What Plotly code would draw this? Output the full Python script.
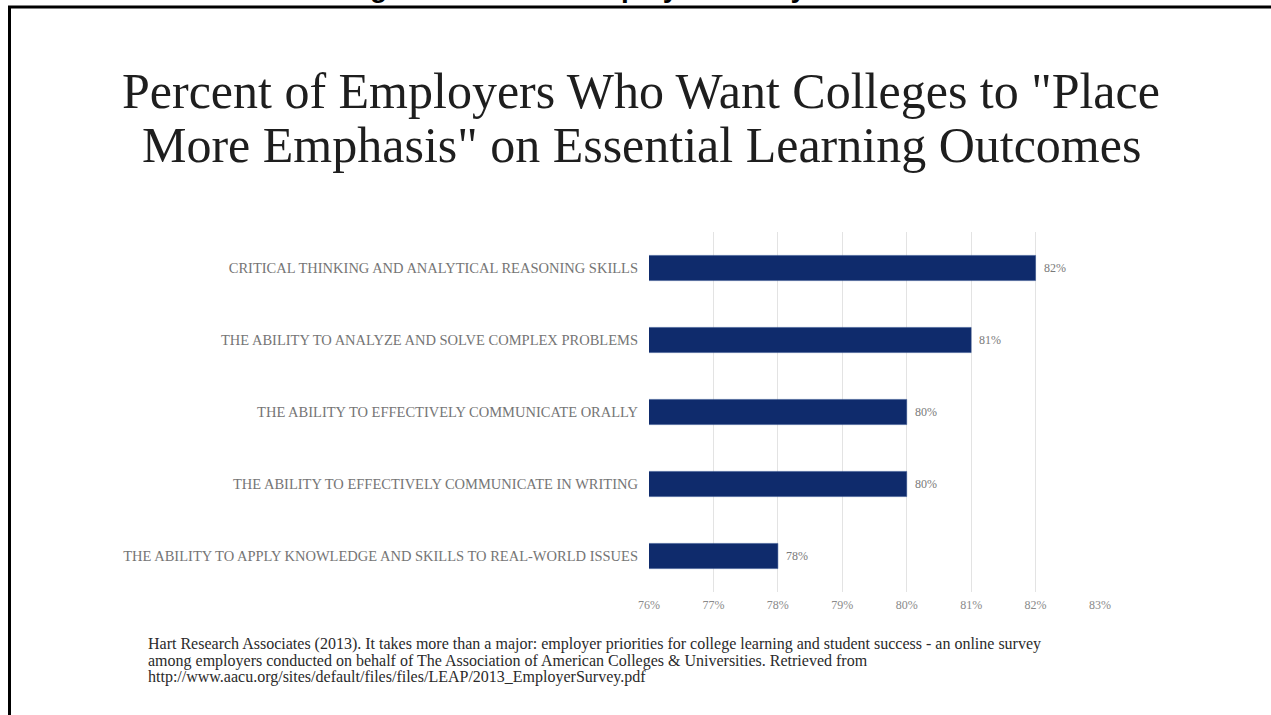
import plotly.graph_objects as go

categories = [
    "CRITICAL THINKING AND ANALYTICAL REASONING SKILLS",
    "THE ABILITY TO ANALYZE AND SOLVE COMPLEX PROBLEMS",
    "THE ABILITY TO EFFECTIVELY COMMUNICATE ORALLY",
    "THE ABILITY TO EFFECTIVELY COMMUNICATE IN WRITING",
    "THE ABILITY TO APPLY KNOWLEDGE AND SKILLS TO REAL-WORLD ISSUES",
]
values = [82, 81, 80, 80, 78]
tick_vals = [76, 77, 78, 79, 80, 81, 82, 83]
tick_text = ["76%", "77%", "78%", "79%", "80%", "81%", "82%", "83%"]

title_lines = ['Percent of Employers Who Want Colleges to "Place',
               'More Emphasis" on Essential Learning Outcomes']
top_text = "Figure 1. AAC&U Employer Survey 2013"
source_lines = [
    "Hart Research Associates (2013). It takes more than a major: employer priorities for college learning and student success - an online survey",
    "among employers conducted on behalf of The Association of American Colleges &amp; Universities. Retrieved from",
    "http://www.aacu.org/sites/default/files/files/LEAP/2013_EmployerSurvey.pdf",
]

W, H = 1271, 715
L, R, T, B = 649, 1100, 232, 592


def px(x):
    return (x - L) / (R - L)


def py(y):
    return (B - y) / (B - T)


serif = "Liberation Serif, Times New Roman, serif"
navy = "#0f2b6c"

fig = go.Figure()
fig.add_trace(go.Bar(
    x=values, y=categories, orientation="h",
    marker=dict(color=navy, line=dict(color="#2a4a8a", width=0.5)),
    width=0.35, hoverinfo="skip",
))

annotations = []
for v, c in zip(values, categories):
    annotations.append(dict(x=v, y=c, xref="x", yref="y", text=f"{v}%",
                            showarrow=False, xanchor="left", xshift=6,
                            font=dict(family=serif, size=12, color="#7a7a7a")))

for i, line in enumerate(title_lines):
    annotations.append(dict(x=px(641), y=py(91 + 54 * i), xref="paper", yref="paper",
                            text=line, showarrow=False, xanchor="center",
                            yanchor="middle", align="center",
                            font=dict(family=serif, size=50, color="#1e1e1e")))
for i, line in enumerate(source_lines):
    annotations.append(dict(x=px(146), y=py(644 + 16.5 * i), xref="paper", yref="paper",
                            text=line, showarrow=False, xanchor="left",
                            yanchor="middle", align="left",
                            font=dict(family=serif, size=16, color="#2a2a2a")))
annotations.append(dict(x=px(610), y=py(5), xref="paper", yref="paper",
                        text=top_text, showarrow=False, xanchor="center",
                        yanchor="bottom", align="center",
                        font=dict(family="Liberation Sans, Arial, sans-serif",
                                  size=28, color="#000000", weight="bold")))

shapes = [
    dict(type="line", xref="paper", yref="paper", x0=px(8), x1=px(1275),
         y0=py(7), y1=py(7), line=dict(color="#000000", width=3)),
    dict(type="line", xref="paper", yref="paper", x0=px(9.5), x1=px(9.5),
         y0=py(6), y1=py(720), line=dict(color="#000000", width=3)),
]

fig.update_layout(
    width=W, height=H,
    margin=dict(l=L, r=W - R, t=T, b=H - B),
    paper_bgcolor="white", plot_bgcolor="white",
    showlegend=False,
    annotations=annotations, shapes=shapes,
    xaxis=dict(range=[76, 83], tickvals=tick_vals, ticktext=tick_text,
               showgrid=True, gridcolor="#e3e3e3", gridwidth=1,
               zeroline=False, showline=False, ticks="", ticklabelstandoff=4,
               tickfont=dict(family=serif, size=12, color="#8a8a8a"),
               fixedrange=True),
    yaxis=dict(categoryorder="array", categoryarray=categories,
               autorange="reversed", showgrid=False, zeroline=False,
               showline=False, ticks="", ticklabelstandoff=10,
               tickfont=dict(family=serif, size=14.5, color="#757575"),
               fixedrange=True),
)

fig.write_html("out.html", config={"displayModeBar": False},
               post_script="document.body.style.margin='0';document.body.style.overflow='hidden';")
